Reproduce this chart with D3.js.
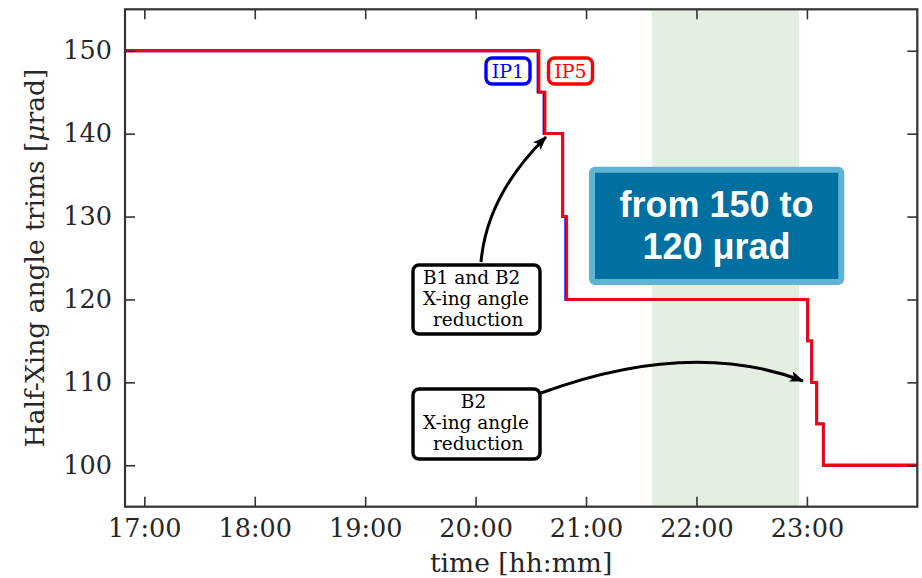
<!DOCTYPE html>
<html>
<head>
<meta charset="utf-8">
<script src="https://cdn.jsdelivr.net/npm/d3@7"></script>
<style>
  body { margin: 0; background: #fff; }
  svg { display: block; }
</style>
</head>
<body>
<div id="chart"></div>
<script>

// ---- data ----
var xTickLabels = ["17:00", "18:00", "19:00", "20:00", "21:00", "22:00", "23:00"];
var yTickValues = [100, 110, 120, 130, 140, 150];
var timeDomain = ["16:49:30", "23:59:59"];
var yDomain = [95, 155];

// IP5 (red) half crossing angle trim
var ip5Times  = ["16:49:30", "20:34:26", "20:37:42", "20:47:20", "20:49:30", "23:00:25", "23:02:36", "23:05:20", "23:08:55", "23:59:59"];
var ip5Values = [150, 145, 140, 130, 120, 115, 110, 105, 100, 100];

// IP1 (blue), steps a touch earlier in the first ramp
var ip1Times  = ["16:49:30", "20:33:55", "20:37:10", "20:47:20", "20:48:58", "23:00:25", "23:02:36", "23:05:20", "23:08:55", "23:59:59"];
var ip1Values = [150, 145, 140, 130, 120, 115, 110, 105, 100, 100];

// shaded period
var bandTimes = ["21:35:40", "22:55:40"];

var note1Lines = ["B1 and B2", "X-ing angle", "reduction"];
var note2Lines = ["B2", "X-ing angle", "reduction"];
var boxLines = ["from 150 to", "120 \u03bcrad"];

// ---- setup ----
var parseT = d3.timeParse("%H:%M:%S");
var parseHM = d3.timeParse("%H:%M");

var W = 922, H = 578;
var margin = {top: 9.3, right: 4.7, bottom: 71.3, left: 125},
    width = W - margin.left - margin.right,
    height = H - margin.top - margin.bottom;

var serif = "'DejaVu Serif', serif";
var axisColor = "#333";

var svg = d3.select("#chart").append("svg")
    .attr("width", W)
    .attr("height", H);

var defs = svg.append("defs");
defs.append("clipPath").attr("id", "plotclip")
  .append("rect").attr("width", width).attr("height", height);
defs.append("marker")
    .attr("id", "arrowhead")
    .attr("markerUnits", "userSpaceOnUse")
    .attr("viewBox", "0 0 14 11")
    .attr("refX", 13).attr("refY", 5.5)
    .attr("markerWidth", 14).attr("markerHeight", 11)
    .attr("orient", "auto")
  .append("path")
    .attr("d", "M0,0 L14,5.5 L0,11 L3,5.5 Z")
    .attr("fill", "#000");

var g = svg.append("g")
    .attr("transform", "translate(" + margin.left + "," + margin.top + ")");

var x = d3.scaleTime()
    .domain(timeDomain.map(parseT))
    .range([0, width]);

var y = d3.scaleLinear()
    .domain(yDomain)
    .range([height, 0]);

// green band
g.append("rect")
    .attr("x", x(parseT(bandTimes[0])))
    .attr("y", 0)
    .attr("width", x(parseT(bandTimes[1])) - x(parseT(bandTimes[0])))
    .attr("height", height)
    .attr("fill", "#e4efe2");

// step lines
var line = d3.line()
    .x(function(d) { return x(d.t); })
    .y(function(d) { return y(d.v); })
    .curve(d3.curveStepAfter);

function series(times, values) {
  return times.map(function(t, i) { return {t: parseT(t), v: values[i]}; });
}

var lines = g.append("g").attr("clip-path", "url(#plotclip)");
lines.append("path")
    .datum(series(ip1Times, ip1Values))
    .attr("d", line)
    .attr("fill", "none")
    .attr("stroke", "#0000ff")
    .attr("stroke-width", 2.8);
lines.append("path")
    .datum(series(ip5Times, ip5Values))
    .attr("d", line)
    .attr("fill", "none")
    .attr("stroke", "#ff0000")
    .attr("stroke-width", 2.8);

// IP labels
function tagBox(x0, y0, w, h, label, color) {
  svg.append("rect")
     .attr("x", x0).attr("y", y0).attr("width", w).attr("height", h)
     .attr("rx", 6).attr("ry", 6)
     .attr("fill", "#fff")
     .attr("stroke", color)
     .attr("stroke-width", 3.4);
  svg.append("text")
     .attr("x", x0 + w / 2).attr("y", y0 + h / 2 + 6.5)
     .attr("text-anchor", "middle")
     .style("font-family", serif)
     .style("font-size", "19px")
     .attr("fill", color)
     .text(label);
}
tagBox(486, 58, 44, 26, "IP1", "#0000ff");
tagBox(548.5, 58, 44, 26, "IP5", "#ff0000");

// annotation arrows
svg.append("path")
    .attr("d", "M481,262 Q487,195 546,137")
    .attr("fill", "none")
    .attr("stroke", "#000")
    .attr("stroke-width", 3)
    .attr("marker-end", "url(#arrowhead)");
svg.append("path")
    .attr("d", "M541,393 Q690,338 803,381")
    .attr("fill", "none")
    .attr("stroke", "#000")
    .attr("stroke-width", 3)
    .attr("marker-end", "url(#arrowhead)");

// annotation boxes
function noteBox(x0, y0, w, h, lines, pos) {
  svg.append("rect")
     .attr("x", x0).attr("y", y0).attr("width", w).attr("height", h)
     .attr("rx", 6).attr("ry", 6)
     .attr("fill", "#fff")
     .attr("stroke", "#000")
     .attr("stroke-width", 3.4);
  lines.forEach(function(s, i) {
    svg.append("text")
       .attr("x", pos[i][0]).attr("y", pos[i][1])
       .attr("text-anchor", pos[i][2])
       .style("font-family", serif)
       .style("font-size", "18.5px")
       .attr("fill", "#000")
       .text(s);
  });
}
noteBox(413, 265, 127, 69, note1Lines,
        [[423, 283.5, "start"], [423, 304.5, "start"], [433, 325.5, "start"]]);
noteBox(413, 389, 127, 70, note2Lines,
        [[473.5, 407.5, "middle"], [423, 428.5, "start"], [433, 449.5, "start"]]);

// blue highlight box
svg.append("rect")
    .attr("x", 592).attr("y", 169.7)
    .attr("width", 249.3).attr("height", 112.3)
    .attr("rx", 3).attr("ry", 3)
    .attr("fill", "#0070a0")
    .attr("stroke", "#5fb4d3")
    .attr("stroke-width", 6);
boxLines.forEach(function(s, i) {
  svg.append("text")
     .attr("x", 716.5).attr("y", 217 + i * 41.5)
     .attr("text-anchor", "middle")
     .style("font-family", "'Liberation Sans', Arial, sans-serif")
     .style("font-weight", "bold")
     .style("font-size", "36px")
     .attr("fill", "#fff")
     .text(s);
});

// axes, ticks pointing inwards on every side
var xTicks = xTickLabels.map(parseHM).map(function(d) {
  return parseT(d3.timeFormat("%H:%M")(d) + ":00");
});

function styleAxis(sel) {
  sel.select(".domain").remove();
  sel.selectAll(".tick line").attr("stroke", axisColor).attr("stroke-width", 1.6);
  sel.selectAll(".tick text")
     .attr("fill", "#262626")
     .style("font-family", serif)
     .style("font-size", "25.5px");
}

g.append("g")
    .attr("transform", "translate(0," + height + ")")
    .call(d3.axisBottom(x).tickValues(xTicks).tickFormat(d3.timeFormat("%H:%M"))
          .tickSizeInner(-10).tickSizeOuter(0).tickPadding(12))
    .call(styleAxis);
g.append("g")
    .call(d3.axisTop(x).tickValues(xTicks).tickFormat("")
          .tickSizeInner(-10).tickSizeOuter(0))
    .call(styleAxis);
g.append("g")
    .call(d3.axisLeft(y).tickValues(yTickValues)
          .tickSizeInner(-10).tickSizeOuter(0).tickPadding(13))
    .call(styleAxis);
g.append("g")
    .attr("transform", "translate(" + width + ",0)")
    .call(d3.axisRight(y).tickValues(yTickValues).tickFormat("")
          .tickSizeInner(-10).tickSizeOuter(0))
    .call(styleAxis);

// frame
g.append("rect")
    .attr("width", width).attr("height", height)
    .attr("fill", "none")
    .attr("stroke", axisColor)
    .attr("stroke-width", 2.2);

// axis titles
svg.append("text")
    .attr("x", margin.left + width / 2)
    .attr("y", 572)
    .attr("text-anchor", "middle")
    .style("font-family", serif)
    .style("font-size", "26.5px")
    .attr("fill", "#262626")
    .text("time [hh:mm]");

var ylab = svg.append("text")
    .attr("transform", "translate(44," + (margin.top + height / 2) + ") rotate(-90)")
    .attr("text-anchor", "middle")
    .style("font-family", serif)
    .style("font-size", "26.5px")
    .attr("fill", "#262626");
ylab.append("tspan").text("Half-Xing angle trims [");
ylab.append("tspan").style("font-style", "italic").text("\u03bc");
ylab.append("tspan").text("rad]");

</script>
</body>
</html>
